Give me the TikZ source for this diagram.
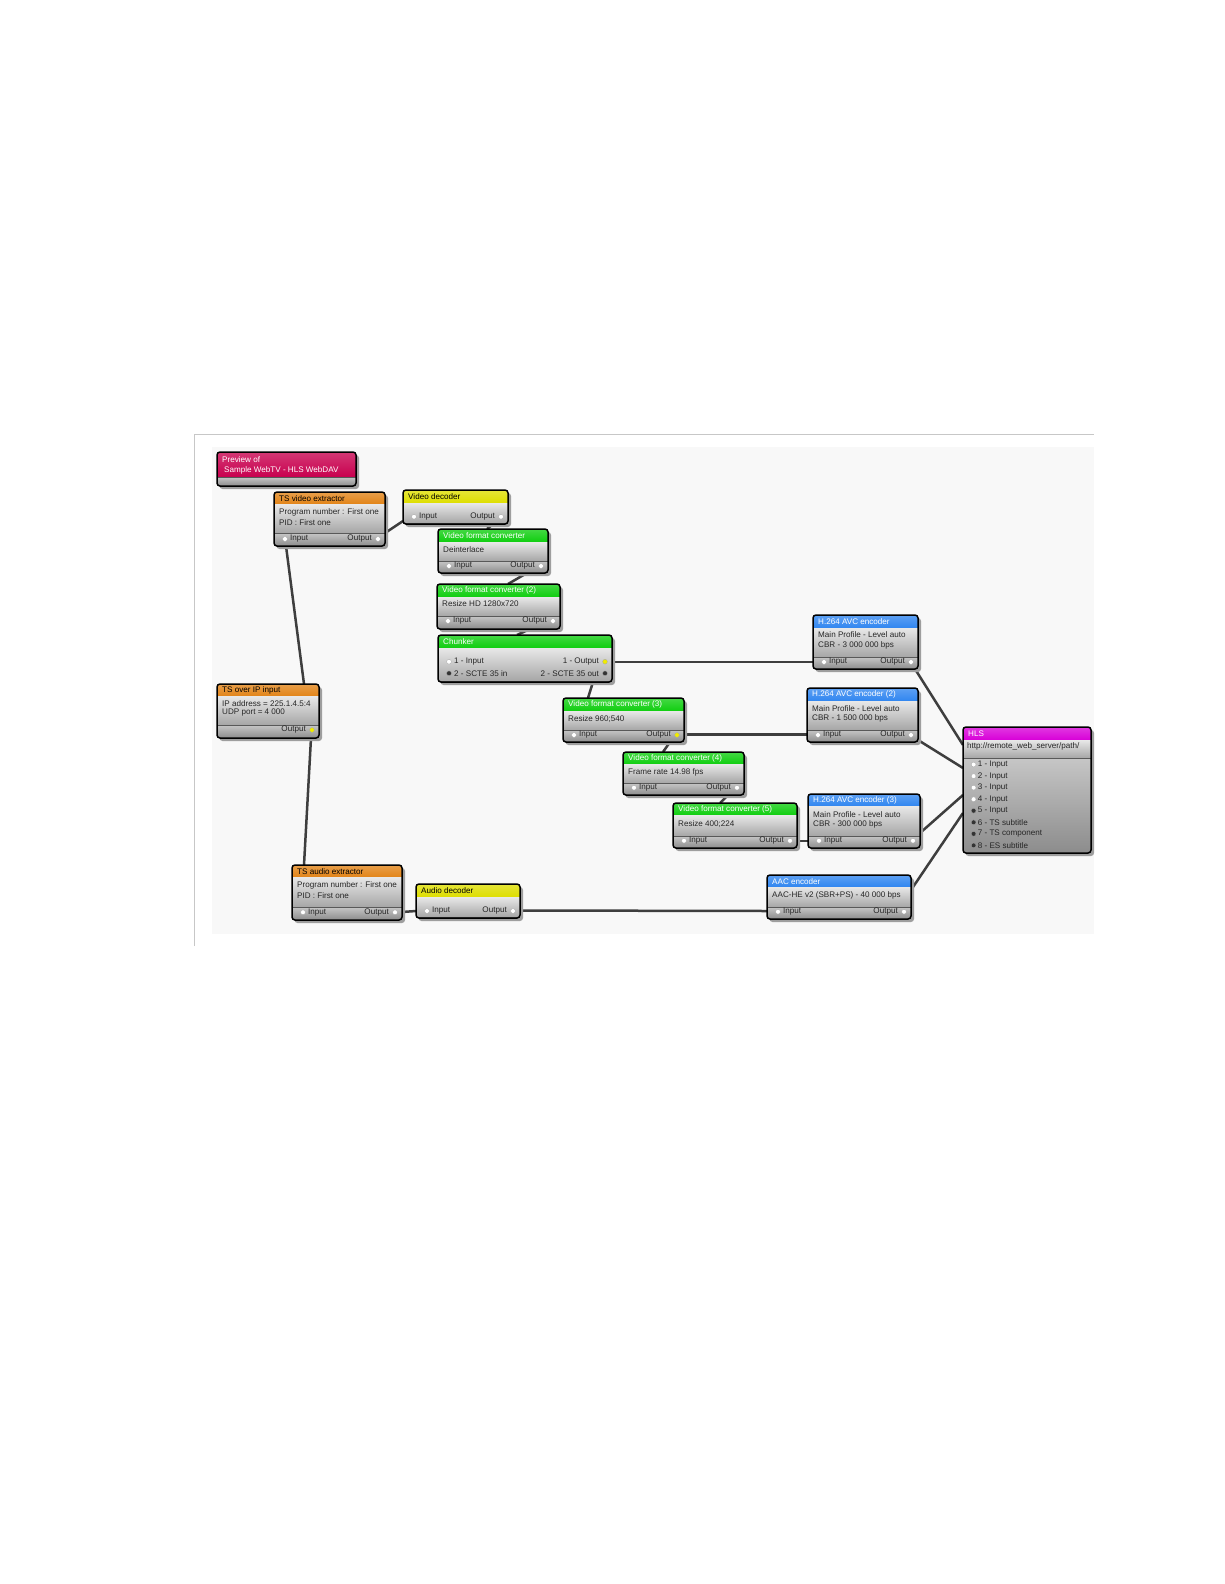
\documentclass[tikz,border=0pt]{standalone}
\usepackage{fontspec}
\setmainfont{Liberation Sans}
\usetikzlibrary{calc}
\pgfdeclarelayer{background}
\pgfsetlayers{background,main}
\definecolor{hdcrimson}{RGB}{200,0,78}
\definecolor{hdorange}{RGB}{226,132,24}
\definecolor{hdyellow}{RGB}{222,222,0}
\definecolor{hdgreen}{RGB}{16,206,16}
\definecolor{hdblue}{RGB}{48,134,240}
\definecolor{hdmagenta}{RGB}{216,0,216}
\definecolor{bodytop}{RGB}{232,232,232}
\definecolor{bodybot}{RGB}{166,166,166}
\definecolor{striptop}{RGB}{198,198,198}
\definecolor{stripbot}{RGB}{140,140,140}
\definecolor{linkgray}{RGB}{62,62,62}
\definecolor{canvas}{RGB}{248,248,248}
\definecolor{portyellow}{RGB}{240,236,0}
\newcommand{\blockfont}{\fontsize{8.1}{10}\selectfont}
\tikzset{
  pblock/.style n args={3}{draw=black, line width=1.5pt, rounded corners=3pt,
    anchor=north west, inner sep=0pt, outer sep=0pt,
    path picture={
      \begin{scope}[sharp corners]
        \shade[top color=#1!78!white, bottom color=#1]
          (path picture bounding box.north west) rectangle
          ($(path picture bounding box.north east)+(0,#2)$);
        \shade[top color=bodytop, bottom color=bodybot]
          ($(path picture bounding box.north west)+(0,#2)$) rectangle
          ($(path picture bounding box.south east)+(0,-#3)$);
        \shade[top color=striptop, bottom color=stripbot]
          ($(path picture bounding box.south west)+(0,-#3)$) rectangle
          (path picture bounding box.south east);
        \draw[line width=0.7pt, black!65]
          ($(path picture bounding box.south west)+(0,-#3)$) --
          ($(path picture bounding box.south east)+(0,-#3)$);
      \end{scope}
    }},
  hdtext/.style={anchor=west, inner sep=0pt, font=\blockfont, text=#1},
  bodytext/.style={anchor=west, inner sep=0pt, font=\blockfont, text=black!85},
  portdot/.style={circle, fill=#1, draw=black!35, line width=0.3pt,
                  inner sep=0pt, minimum size=4.8pt},
  portlabel/.style={inner sep=0pt, font=\blockfont, text=black!85},
  link/.style={draw=linkgray, line width=2.5pt},
  frameline/.style={draw=black!22, line width=1pt}
}

\begin{document}
\begin{tikzpicture}[x=1pt, y=-1pt]
  \useasboundingbox (0,0) rectangle (1224,1584);
  % The blocks: name/left/top/width/height/header colour/header/port strip.
  \foreach \nm/\x/\y/\w/\h/\hc/\hh/\st in {
      prev/217/452/139/34/hdcrimson/25/9,
      tsvx/274/492/111/54/hdorange/12/13,
      vdec/403/490/105/34/hdyellow/13/1,
      vfc1/438/529/110/44/hdgreen/13/12,
      vfc2/437/584/123/45/hdgreen/13/13,
      chunk/438/635/174/47/hdgreen/13/1,
      tsip/217/684/102/54/hdorange/12/13,
      vfc3/563/698/121/44/hdgreen/13/12,
      vfc4/623/752/121/43/hdgreen/12/12,
      vfc5/673/803/124/45/hdgreen/12/12,
      h264a/813/615/105/54/hdblue/13/12,
      h264b/807/688/111/54/hdblue/13/12,
      h264c/808/794/112/54/hdblue/12/12,
      hls/963/727/128/126/hdmagenta/13/95,
      tsax/292/865/110/55/hdorange/12/13,
      adec/416/884/104/34/hdyellow/13/1,
      aac/767/875/144/44/hdblue/12/12} {
    \node[pblock={\hc}{\hh}{\st}, minimum width=\w pt, minimum height=\h pt]
      (\nm) at (\x,\y) {};
  }
  % Header titles.
  \node[hdtext=white] (prev-t1) at ($(prev.north west)+(5,8)$) {Preview of};
  \node[hdtext=white] (prev-t2) at ($(prev.north west)+(7,18.5)$)
    {Sample WebTV - HLS WebDAV};
  \foreach \b/\tc/\ttl in {
      tsvx/black/TS video extractor, vdec/black/Video decoder,
      vfc1/white/Video format converter, vfc2/white/Video format converter (2),
      chunk/white/Chunker, tsip/black/TS over IP input,
      vfc3/white/Video format converter (3), vfc4/white/Video format converter (4),
      vfc5/white/Video format converter (5), h264a/white/H.264 AVC encoder,
      h264b/white/H.264 AVC encoder (2), h264c/white/H.264 AVC encoder (3),
      hls/white/HLS, tsax/black/TS audio extractor, adec/black/Audio decoder,
      aac/white/AAC encoder} {
    \node[hdtext=\tc] (\b-t) at ($(\b.north west)+(5,6.5)$) {\ttl};
  }
  % Parameter lines.
  \foreach \b/\dy/\txt [count=\k] in {
      tsvx/20.5/Program number : First one, tsvx/30.5/PID : First one,
      vfc1/20.5/Deinterlace, vfc2/20/Resize HD 1280x720,
      tsip/19.5/IP address = 225.1.4.5:4, tsip/29/UDP port = 4 000,
      vfc3/21/Resize 960;540, vfc4/20/Frame rate 14.98 fps,
      vfc5/21.5/Resize 400;224,
      h264a/20/Main Profile - Level auto, h264a/30/CBR - 3 000 000 bps,
      h264b/20.3/Main Profile - Level auto, h264b/30.3/CBR - 1 500 000 bps,
      h264c/20.7/Main Profile - Level auto, h264c/30.7/CBR - 300 000 bps,
      tsax/20.7/Program number : First one, tsax/30.7/PID : First one,
      aac/20/AAC-HE v2 (SBR+PS) - 40 000 bps} {
    \node[bodytext] (par\k) at ($(\b.north west)+(5,\dy)$) {\txt};
  }
  \node[bodytext] (hls-url) at ($(hls.north west)+(4,19.7)$)
    {http://remote\_web\_server/path/};
  % Input ports, measured up from the bottom edge.
  \foreach \b/\r/\lbl/\c [count=\k] in {
      tsvx/7/Input/white, vdec/7.3/Input/white, vfc1/7/Input/white,
      vfc2/8/Input/white, chunk/20.3/1 - Input/white,
      chunk/8.7/2 - SCTE 35 in/black!80, vfc3/7/Input/white,
      vfc4/7.3/Input/white, vfc5/7.3/Input/white, h264a/7/Input/white,
      h264b/7/Input/white, h264c/7.3/Input/white, tsax/7.7/Input/white,
      adec/7/Input/white, aac/7.3/Input/white} {
    \node[portdot=\c] (in\k) at ($(\b.south west)+(11,-\r)$) {};
    \node[portlabel, anchor=west] (inl\k) at ($(in\k)+(5,0)$) {\lbl};
  }
  % Output ports.
  \foreach \b/\r/\lbl/\c [count=\k] in {
      tsvx/7/Output/white, vdec/7.3/Output/white, vfc1/7/Output/white,
      vfc2/8/Output/white, chunk/20.3/1 - Output/portyellow,
      chunk/8.7/2 - SCTE 35 out/black!80, tsip/8/Output/portyellow,
      vfc3/7/Output/portyellow, vfc4/7.3/Output/white, vfc5/7.3/Output/white,
      h264a/7/Output/white, h264b/7/Output/white, h264c/7.3/Output/white,
      tsax/7.7/Output/white, adec/7/Output/white, aac/7.3/Output/white} {
    \node[portdot=\c] (out\k) at ($(\b.south east)+(-7,-\r)$) {};
    \node[portlabel, anchor=east] (outl\k) at ($(out\k)+(-6,0)$) {\lbl};
  }
  % The eight inputs of the HLS output.
  \foreach \lbl/\c [count=\k] in {
      1 - Input/white, 2 - Input/white, 3 - Input/white, 4 - Input/white,
      5 - Input/black!80, 6 - TS subtitle/black!80,
      7 - TS component/black!80, 8 - ES subtitle/black!80} {
    \node[portdot=\c] (hin\k) at ($(hls.north west)+(10.6,{26 + 11.55*\k})$) {};
    \node[portlabel, anchor=west] (hinl\k) at ($(hin\k)+(4,0)$) {\lbl};
  }
  \begin{pgfonlayer}{background}
    \fill[canvas] (212,447) rectangle (1094,934);
    \draw[frameline] (194,946) -- (194,434) -- (1094,434);
    % Links between the blocks.
    \draw[link] ($(tsvx.south west)+(12,0)$) -- ($(tsip.north east)+(-15,0)$);
    \draw[link] ($(tsip.south east)+(-8,0)$) -- ($(tsax.north west)+(12,0)$);
    \draw[link] ($(tsvx.south east)+(0,-13)$) -- ($(vdec.south west)+(0,-3)$);
    \draw[link] ($(vdec.south west)+(90,0)$) -- ($(vfc1.north west)+(49,0)$);
    \draw[link] ($(vfc1.south west)+(89,0)$) -- ($(vfc2.north west)+(71,0)$);
    \draw[link] ($(vfc2.south west)+(93,0)$) -- ($(chunk.north west)+(79,0)$);
    \draw[link] ($(chunk.north east)+(0,27)$) -- ($(h264a.south west)+(0,-7)$);
    \draw[link] ($(chunk.south west)+(155,0)$) -- ($(vfc3.north west)+(25,0)$);
    \draw[link] ($(vfc3.south east)+(0,-7.5)$) -- ($(h264b.south west)+(0,-7.5)$);
    \draw[link] ($(vfc3.south west)+(107,0)$) -- ($(vfc4.north west)+(40,0)$);
    \draw[link] ($(vfc4.south west)+(105,0)$) -- ($(vfc5.north west)+(47,0)$);
    \draw[link] ($(vfc5.south east)+(0,-7)$) -- ($(h264c.south west)+(0,-7)$);
    \draw[link] ($(h264a.south east)+(-3,0)$) -- ($(hls.north west)+(0,18)$);
    \draw[link] ($(h264b.south east)+(0,-2)$) -- ($(hls.north west)+(0,41)$);
    \draw[link] ($(h264c.south east)+(0,-15)$) -- ($(hls.north west)+(0,68)$);
    \draw[link] ($(aac.north east)+(0,15)$) -- ($(hls.north west)+(0,86)$);
    \draw[link] ($(tsax.south east)+(0,-8)$) -- ($(adec.south west)+(0,-7)$);
    \draw[link] ($(adec.south east)+(0,-7.5)$) -- ($(aac.south west)+(0,-8)$);
    % Drop shadows.
    \foreach \nm in {prev,tsvx,vdec,vfc1,vfc2,chunk,tsip,vfc3,vfc4,vfc5,
                     h264a,h264b,h264c,hls,tsax,adec,aac} {
      \fill[black!38, rounded corners=3pt]
        ($(\nm.north west)+(2.5,3)$) rectangle ($(\nm.south east)+(3,3)$);
    }
  \end{pgfonlayer}
\end{tikzpicture}
\end{document}
